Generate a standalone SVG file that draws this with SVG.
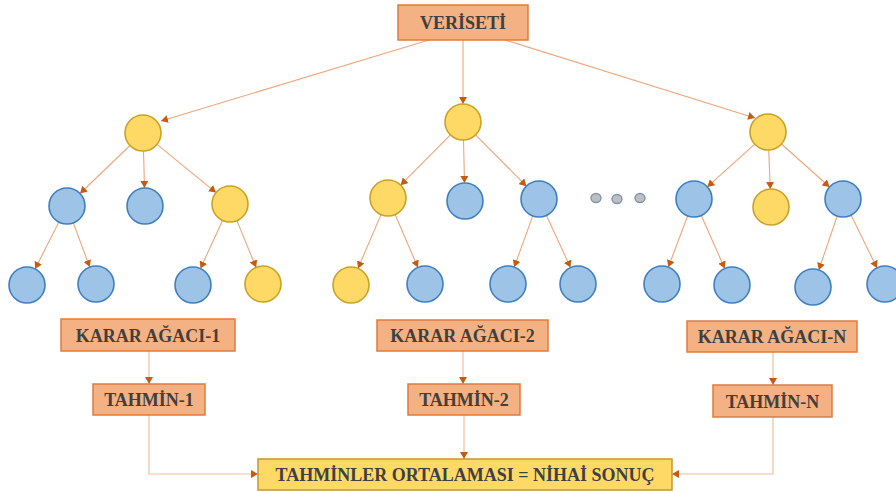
<svg xmlns="http://www.w3.org/2000/svg" width="896" height="492" viewBox="0 0 896 492">
  <style>
    .bg { fill: #ffffff; }
    .box { fill: #F4B183; stroke: #E07B3C; stroke-width: 1.5; }
    .final { fill: #FFD966; stroke: #C9952C; stroke-width: 1.5; }
    .lbl { font-family: "Liberation Serif", "Times New Roman", serif; font-weight: bold; font-size: 18px; fill: #404040; text-anchor: middle; }
    .yel { fill: #FFD966; stroke: #C9A227; stroke-width: 1.6; }
    .blu { fill: #9DC3E6; stroke: #3F7FBF; stroke-width: 1.6; }
    .dot { fill: #BFBFBF; stroke: #7F95AE; stroke-width: 1.4; }
    .edge { fill: none; stroke: #EFA57A; stroke-width: 1.1; marker-end: url(#arr); }
    .flow { fill: none; stroke: #F2BE9E; stroke-width: 1.2; }
    .flowa { fill: none; stroke: #F2BE9E; stroke-width: 1.2; marker-end: url(#arr); }
  </style>
  <defs>
    <marker id="arr" viewBox="0 0 7 8" refX="7" refY="4" markerWidth="7" markerHeight="8" markerUnits="userSpaceOnUse" orient="auto">
      <path d="M0,0 L7,4 L0,8 z" fill="#C55A11"/>
    </marker>
  </defs>
  <rect class="bg" x="0" y="0" width="896" height="492"/>

  <!-- connectors -->
  <g id="connectors">
    <!-- dataset to tree roots -->
    <line class="edge" x1="429" y1="40" x2="161" y2="121"/>
    <line class="edge" x1="463" y1="40" x2="463" y2="104"/>
    <line class="edge" x1="505" y1="40" x2="755" y2="118"/>
    <!-- tree 1 -->
    <line class="edge" x1="130" y1="145.5" x2="80" y2="193.5"/>
    <line class="edge" x1="143.5" y1="151" x2="144.5" y2="188"/>
    <line class="edge" x1="157" y1="144.4" x2="216" y2="192.6"/>
    <line class="edge" x1="58.9" y1="222.1" x2="35.1" y2="268.9"/>
    <line class="edge" x1="73.3" y1="222.9" x2="89.7" y2="267.1"/>
    <line class="edge" x1="222.5" y1="220.4" x2="200.5" y2="268.6"/>
    <line class="edge" x1="236.9" y1="220.6" x2="256.1" y2="267.4"/>
    <!-- tree 2 -->
    <line class="edge" x1="450.4" y1="134.8" x2="400.6" y2="185.2"/>
    <line class="edge" x1="463.5" y1="140" x2="464.5" y2="183"/>
    <line class="edge" x1="475.6" y1="134.8" x2="526.4" y2="186.2"/>
    <line class="edge" x1="381" y1="214.6" x2="358" y2="268.4"/>
    <line class="edge" x1="395.1" y1="214.5" x2="417.9" y2="267.5"/>
    <line class="edge" x1="532.8" y1="215.9" x2="514.2" y2="267.1"/>
    <line class="edge" x1="546.5" y1="215.4" x2="570.5" y2="267.6"/>
    <!-- tree N -->
    <line class="edge" x1="754.7" y1="144.1" x2="707.3" y2="186.9"/>
    <line class="edge" x1="768.7" y1="150" x2="770.3" y2="189"/>
    <line class="edge" x1="781.4" y1="144" x2="829.6" y2="187"/>
    <line class="edge" x1="687.7" y1="215.8" x2="668.3" y2="267.2"/>
    <line class="edge" x1="701.3" y1="215.5" x2="724.7" y2="268.5"/>
    <line class="edge" x1="837.2" y1="216" x2="818.8" y2="270"/>
    <line class="edge" x1="851" y1="215.1" x2="877" y2="267.9"/>
    <!-- tree labels to predictions -->
    <line class="flowa" x1="149" y1="351" x2="149" y2="384"/>
    <line class="flowa" x1="463" y1="351" x2="463" y2="384"/>
    <line class="flowa" x1="773" y1="352" x2="773" y2="385"/>
    <!-- predictions to final average -->
    <polyline class="flowa" points="149,415 149,474 258,474"/>
    <line class="flowa" x1="464" y1="415" x2="464" y2="459"/>
    <polyline class="flowa" points="773,417 773,474 672,474"/>
  </g>

  <!-- dataset -->
  <g id="veriseti">
    <rect class="box" x="398" y="5" width="130" height="35"/>
    <text class="lbl" x="463" y="29">VERİSETİ</text>
  </g>

  <!-- tree 1 -->
  <g id="tree1">
    <circle class="yel" cx="143" cy="133" r="18"/>
    <circle class="blu" cx="67" cy="206" r="18"/>
    <circle class="blu" cx="145" cy="206" r="18"/>
    <circle class="yel" cx="230" cy="204" r="18"/>
    <circle class="blu" cx="27" cy="285" r="18"/>
    <circle class="blu" cx="96" cy="284" r="18"/>
    <circle class="blu" cx="193" cy="285" r="18"/>
    <circle class="yel" cx="263" cy="284" r="18"/>
  </g>

  <!-- tree 2 -->
  <g id="tree2">
    <circle class="yel" cx="463" cy="122" r="18"/>
    <circle class="yel" cx="388" cy="198" r="18"/>
    <circle class="blu" cx="465" cy="201" r="18"/>
    <circle class="blu" cx="539" cy="199" r="18"/>
    <circle class="yel" cx="351" cy="285" r="18"/>
    <circle class="blu" cx="425" cy="284" r="18"/>
    <circle class="blu" cx="508" cy="284" r="18"/>
    <circle class="blu" cx="578" cy="284" r="18"/>
  </g>

  <!-- ellipsis -->
  <g id="ellipsis">
    <ellipse class="dot" cx="596" cy="198" rx="5" ry="4.5"/>
    <ellipse class="dot" cx="617" cy="199" rx="5" ry="4.5"/>
    <ellipse class="dot" cx="640" cy="198" rx="5" ry="4.5"/>
  </g>

  <!-- tree N -->
  <g id="treeN">
    <circle class="yel" cx="768" cy="132" r="18"/>
    <circle class="blu" cx="694" cy="199" r="18"/>
    <circle class="yel" cx="771" cy="207" r="18"/>
    <circle class="blu" cx="843" cy="199" r="18"/>
    <circle class="blu" cx="662" cy="284" r="18"/>
    <circle class="blu" cx="732" cy="285" r="18"/>
    <circle class="blu" cx="813" cy="287" r="18"/>
    <circle class="blu" cx="885" cy="284" r="18"/>
  </g>

  <!-- tree labels -->
  <g id="karar1">
    <rect class="box" x="61" y="319" width="174" height="32"/>
    <text class="lbl" x="148" y="341.5">KARAR AĞACI-1</text>
  </g>
  <g id="karar2">
    <rect class="box" x="377" y="320" width="171" height="31"/>
    <text class="lbl" x="462.5" y="342">KARAR AĞACI-2</text>
  </g>
  <g id="kararN">
    <rect class="box" x="687" y="321" width="170" height="31"/>
    <text class="lbl" x="772" y="343">KARAR AĞACI-N</text>
  </g>

  <!-- predictions -->
  <g id="tahmin1">
    <rect class="box" x="93" y="384" width="112" height="31"/>
    <text class="lbl" x="149" y="406">TAHMİN-1</text>
  </g>
  <g id="tahmin2">
    <rect class="box" x="408" y="384" width="112" height="31"/>
    <text class="lbl" x="464" y="406">TAHMİN-2</text>
  </g>
  <g id="tahminN">
    <rect class="box" x="713" y="385" width="119" height="32"/>
    <text class="lbl" x="772.5" y="407.5">TAHMİN-N</text>
  </g>

  <!-- final average -->
  <g id="sonuc">
    <rect class="final" x="258" y="459" width="414" height="31"/>
    <text class="lbl" x="465" y="481">TAHMİNLER ORTALAMASI = NİHAİ SONUÇ</text>
  </g>
</svg>
